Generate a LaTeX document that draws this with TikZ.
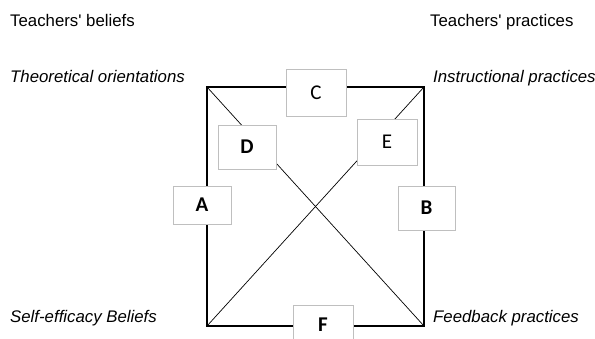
\documentclass[tikz,border=0pt]{standalone}
\usepackage{fontspec}
\setmainfont{Liberation Sans}
\newfontfamily\boxfont{Carlito}
\usetikzlibrary{calc}

\begin{document}
\begin{tikzpicture}[x=1pt,y=-1pt,
  lbl/.style={anchor=base west,inner sep=0pt,font=\fontsize{16.8}{18}\selectfont},
  letterbox/.style={draw=black!25,line width=0.9pt,fill=white,inner sep=0pt,font=\boxfont\fontsize{21}{22}\selectfont},
  edge/.style={line width=1.2pt},
  diag/.style={line width=0.7pt}]
\useasboundingbox (0,0) rectangle (595,338);
% corners of the square
\coordinate (tl) at (207,87);
\coordinate (tr) at (424,87);
\coordinate (bl) at (207,326);
\coordinate (br) at (424,326);
\draw[edge] (tl)--(tr)--(br)--(bl)--cycle;
\draw[diag] (tl)--(br);
\draw[diag] (tr)--(bl);
% boxes
\node[letterbox,minimum width=60pt,minimum height=47pt] (C) at (316,92.5) {C};
\node[letterbox,minimum width=58pt,minimum height=44pt] (D) at (247,147) {\bfseries D};
\node[letterbox,minimum width=60pt,minimum height=46pt] (E) at (387,142) {E};
\node[letterbox,minimum width=58pt,minimum height=38pt] (A) at (202,205) {\bfseries A};
\node[letterbox,minimum width=57pt,minimum height=44pt] (B) at (426.5,208) {\bfseries B};
\node[letterbox,minimum width=60pt,minimum height=40pt] (F) at (323,325) {\bfseries F};
% labels
\node[lbl] (tb) at (10,26) {Teachers\textquotesingle\ beliefs};
\node[lbl] (tp) at (430,26) {Teachers\textquotesingle\ practices};
\node[lbl] (th) at (10,82) {\itshape Theoretical orientations};
\node[lbl] (ip) at (433,82) {\itshape Instructional practices};
\node[lbl] (se) at (10,322) {\itshape Self-efficacy Beliefs};
\node[lbl] (fp) at (433,322) {\itshape Feedback practices};
\end{tikzpicture}
\end{document}
